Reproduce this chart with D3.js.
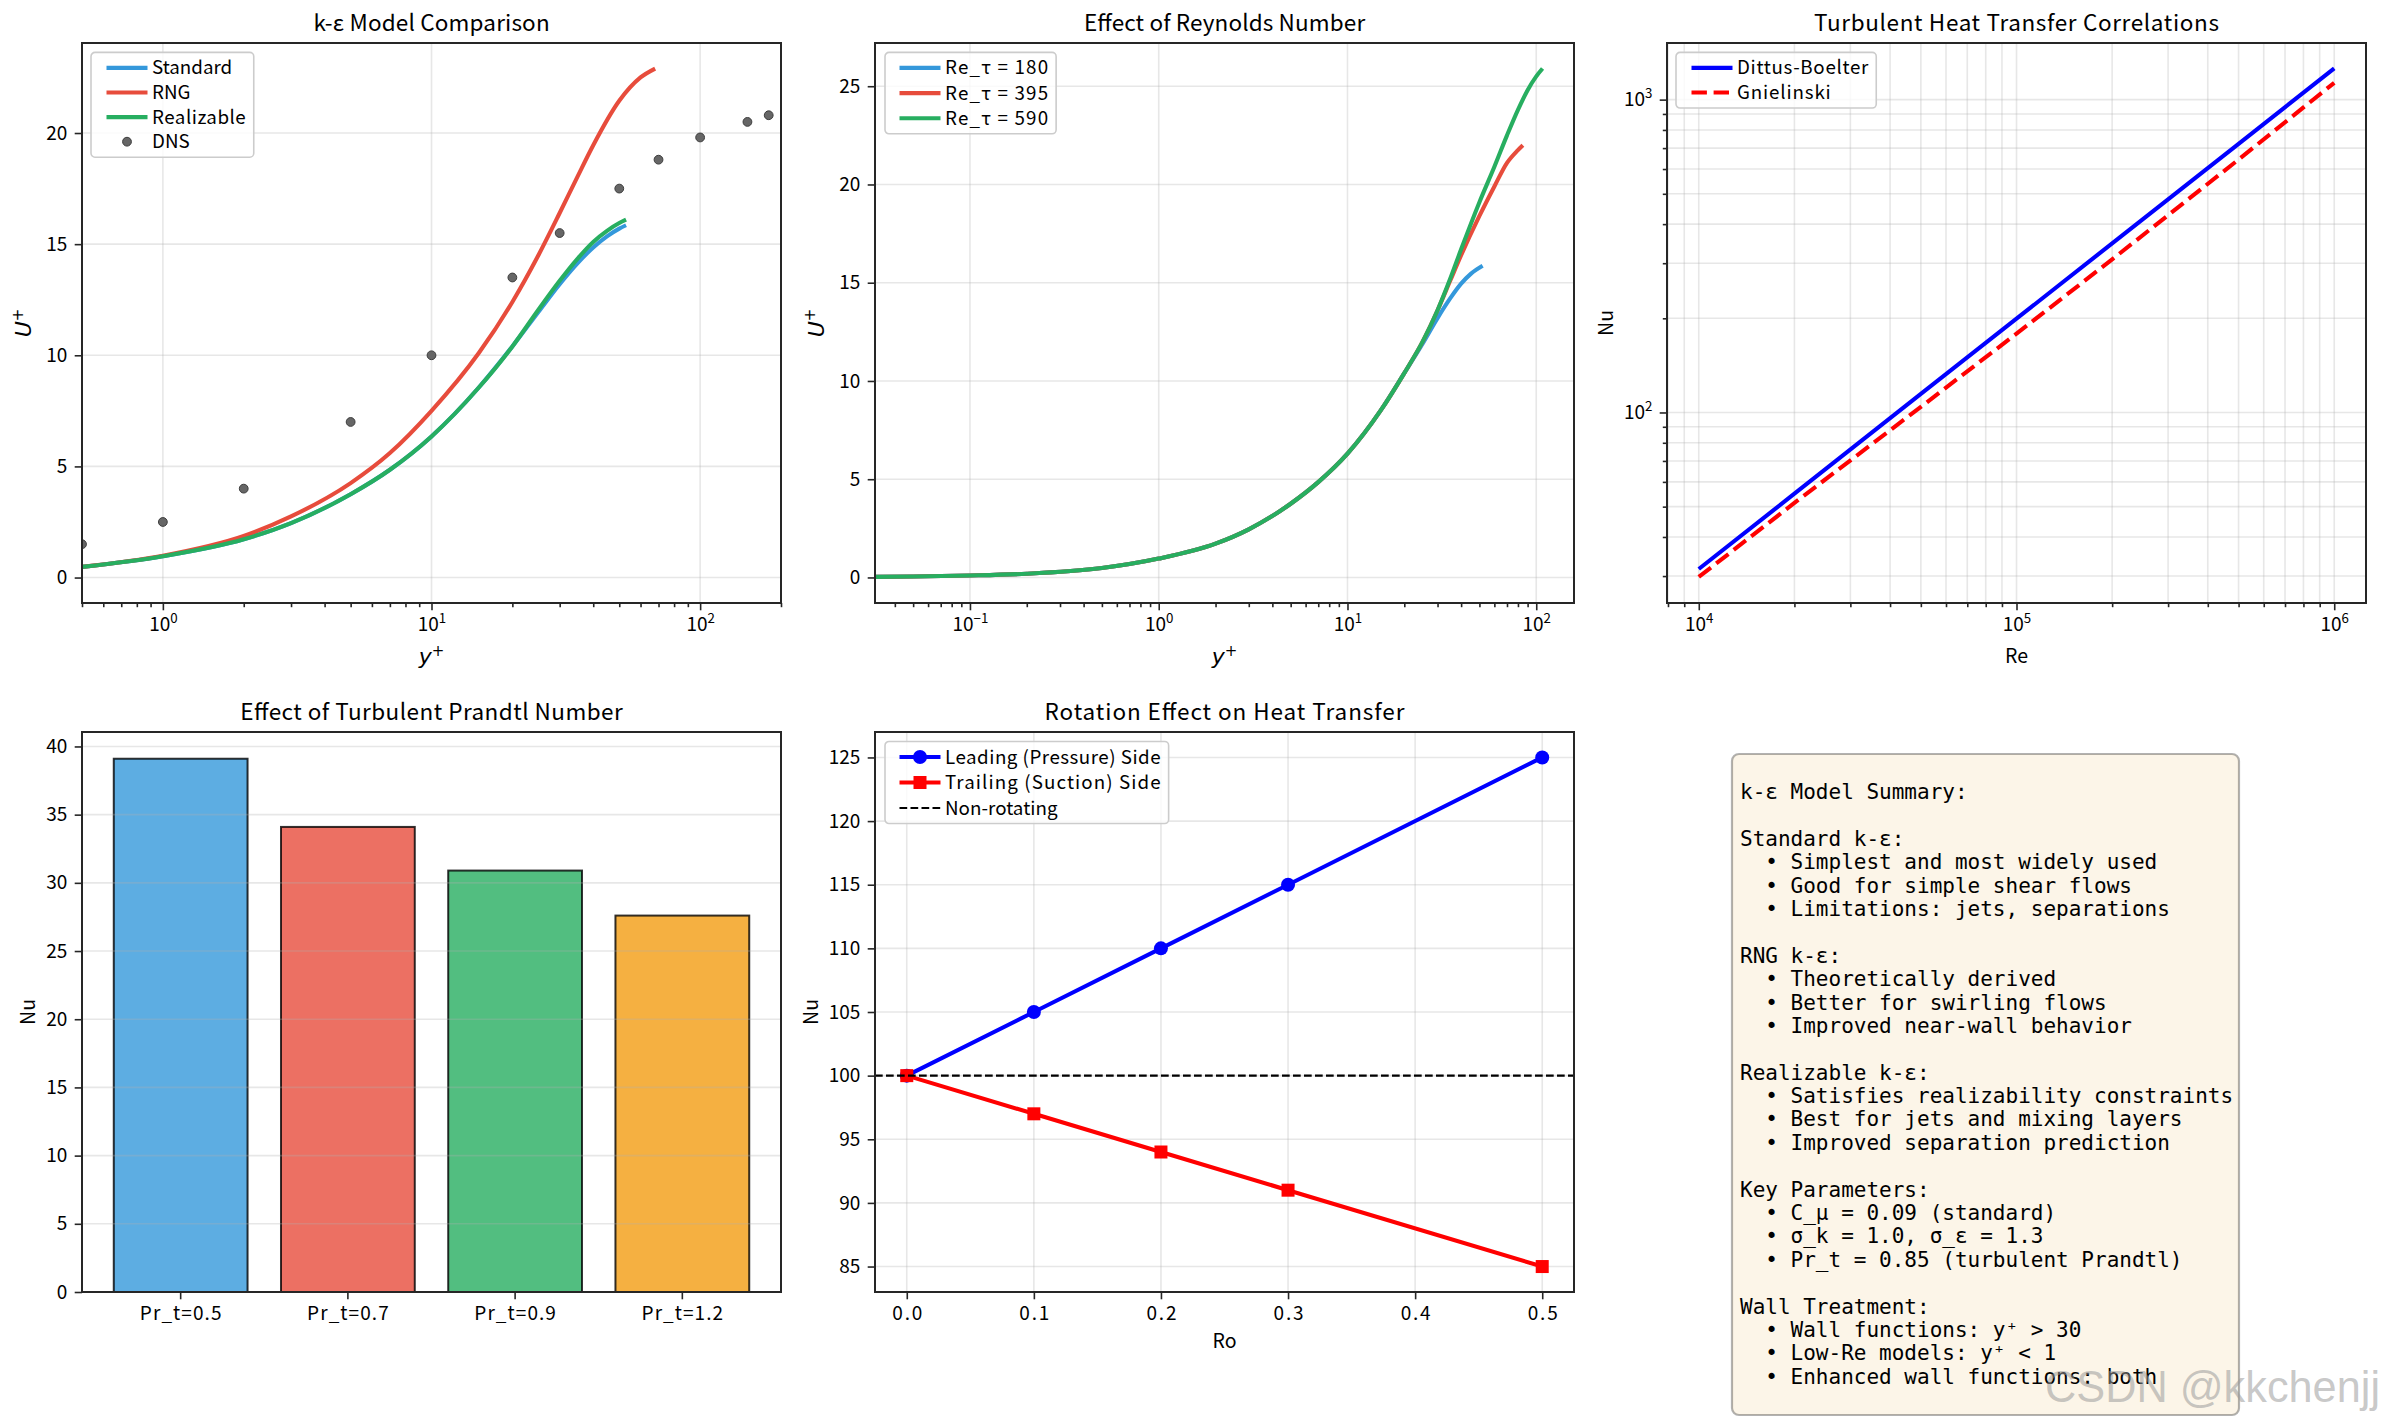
<!DOCTYPE html>
<html>
<head>
<meta charset="utf-8">
<script src="https://cdn.jsdelivr.net/npm/d3@7/dist/d3.min.js"></script>
<style>
  body { margin: 0; background: #fff; }
</style>
</head>
<body>
<script>

// ---------- data ----------

// panel 1: k-eps model comparison
const yPlusStd = [0.5, 1, 2, 3, 5, 7, 10, 15, 20, 25, 30, 35, 40, 45, 50, 53];
const uStandard = [0.48, 0.96, 1.72, 2.45, 3.75, 4.85, 6.35, 8.55, 10.4, 11.95, 13.2, 14.15, 14.85, 15.35, 15.7, 15.85];
const uRealizable = [0.48, 0.96, 1.72, 2.45, 3.75, 4.85, 6.35, 8.55, 10.4, 12.05, 13.35, 14.35, 15.1, 15.6, 15.95, 16.1];
const yPlusRng = [0.5, 1, 2, 3, 5, 7, 10, 15, 20, 25, 30, 35, 40, 50, 60, 68];
const uRng = [0.48, 0.98, 1.87, 2.75, 4.25, 5.6, 7.5, 10.1, 12.4, 14.5, 16.4, 18.05, 19.45, 21.45, 22.5, 22.9];
const dnsYPlus = [0.5, 1, 2, 5, 10, 20, 30, 50, 70, 100, 150, 180];
const dnsU = [1.5, 2.5, 4, 7, 10, 13.5, 15.5, 17.5, 18.8, 19.8, 20.5, 20.8];
const modelNames = ['Standard', 'RNG', 'Realizable'];

// panel 2: Reynolds number effect
const yPlus180 = [0.03, 0.05, 0.1, 0.2, 0.5, 1, 2, 3, 5, 7, 10, 15, 20, 25, 30, 35, 40, 45, 52];
const u180 = [0.03, 0.05, 0.1, 0.19, 0.48, 0.96, 1.72, 2.45, 3.75, 4.85, 6.3, 8.5, 10.4, 11.9, 13.2, 14.2, 14.95, 15.45, 15.86];
const yPlus395 = [0.03, 0.05, 0.1, 0.2, 0.5, 1, 2, 3, 5, 7, 10, 15, 20, 25, 30, 35, 40, 50, 60, 70, 80, 85];
const u395 = [0.03, 0.05, 0.1, 0.19, 0.48, 0.96, 1.72, 2.45, 3.75, 4.85, 6.3, 8.5, 10.4, 12.0, 13.6, 15.1, 16.4, 18.4, 19.9, 21.1, 21.75, 22.0];
const yPlus590 = [0.03, 0.05, 0.1, 0.2, 0.5, 1, 2, 3, 5, 7, 10, 15, 20, 25, 30, 35, 40, 50, 60, 70, 80, 90, 100, 108];
const u590 = [0.03, 0.05, 0.1, 0.19, 0.48, 0.96, 1.72, 2.45, 3.75, 4.85, 6.3, 8.5, 10.4, 12.0, 13.6, 15.2, 16.7, 19.1, 20.9, 22.5, 23.8, 24.8, 25.5, 25.9];
const reTauNames = ['Re_τ = 180', 'Re_τ = 395', 'Re_τ = 590'];

// panel 3: heat transfer correlations
const reValues = [1e4, 2e4, 5e4, 1e5, 2e5, 5e5, 1e6];
const nuDittus = [31.6, 55.0, 114.6, 199.4, 347.2, 722.6, 1258];
const nuGnielinski = [29.8, 51.4, 104.2, 178.6, 308.5, 643.5, 1132];

// panel 4: turbulent Prandtl number
const prtLabels = ['Pr_t=0.5', 'Pr_t=0.7', 'Pr_t=0.9', 'Pr_t=1.2'];
const nuPrt = [39.1, 34.1, 30.9, 27.6];

// panel 5: rotation
const roValues = [0, 0.1, 0.2, 0.3, 0.5];
const nuLeading = [100, 105, 110, 115, 125];
const nuTrailing = [100, 97, 94, 91, 85];
const nuNonRotating = 100;

// axis limits and ticks
const xlim1 = [0.5, 200], ylim1 = [-1.145, 24.05], uTicks1 = [0, 5, 10, 15, 20];
const xlim2 = [0.0314, 158.5], ylim2 = [-1.3, 27.2], uTicks2 = [0, 5, 10, 15, 20, 25];
const xlim3 = [Math.pow(10, 3.9), Math.pow(10, 6.1)], ylim3 = [Math.pow(10, 1.391), Math.pow(10, 3.181)];
const ylim4 = [0, 41.06], nuTicks4 = [0, 5, 10, 15, 20, 25, 30, 35, 40];
const xlim5 = [-0.025, 0.525], ylim5 = [83, 127];
const roTicks = [0, 0.1, 0.2, 0.3, 0.4, 0.5], nuTicks5 = [85, 90, 95, 100, 105, 110, 115, 120, 125];

// summary box text
const summaryLines = [
  'k-ε Model Summary:',
  '',
  'Standard k-ε:',
  '  • Simplest and most widely used',
  '  • Good for simple shear flows',
  '  • Limitations: jets, separations',
  '',
  'RNG k-ε:',
  '  • Theoretically derived',
  '  • Better for swirling flows',
  '  • Improved near-wall behavior',
  '',
  'Realizable k-ε:',
  '  • Satisfies realizability constraints',
  '  • Best for jets and mixing layers',
  '  • Improved separation prediction',
  '',
  'Key Parameters:',
  '  • C_μ = 0.09 (standard)',
  '  • σ_k = 1.0, σ_ε = 1.3',
  '  • Pr_t = 0.85 (turbulent Prandtl)',
  '',
  'Wall Treatment:',
  '  • Wall functions: y⁺ > 30',
  '  • Low-Re models: y⁺ < 1',
  '  • Enhanced wall functions: both'
];

// ---------- styles ----------
const FONT = "'Noto Sans CJK SC', 'Noto Sans', sans-serif";
const MATH = "'DejaVu Sans', sans-serif";
const MONO = "'DejaVu Sans Mono', monospace";
const INK = '#262626';
const BLUE = '#3498db', RED = '#e74c3c', GREEN = '#27ae60', ORANGE = '#f39c12';
const TITLE_PX = 22.5, TICK_PX = 19, LEG_PX = 18.75;
const LW = 4.1;

const W = 699, H = 560;
const colX = [82, 875, 1667];
const rowY = [43, 732];

const svg = d3.select('body')
  .append('svg')
  .attr('width', 2382)
  .attr('height', 1424)
  .style('font-family', FONT);

// width in half-width units, like the CJK font in the reference
const units = s => Array.from(s).reduce((n, ch) => n + (ch.charCodeAt(0) < 128 ? 1 : 2), 0);

// widen a text to the monospaced width of the reference font (never squeeze)
const fitText = (sel, pxPerUnit) => {
  sel.each(function() {
    const target = units(this.textContent) * pxPerUnit;
    if (this.getComputedTextLength() < target) {
      d3.select(this).attr('textLength', target).attr('lengthAdjust', 'spacing');
    }
  });
};

const panel = (cx, cy, title, id) => {
  const g = svg.append('g').attr('transform', `translate(${cx}, ${cy})`);
  g.append('clipPath').attr('id', id)
    .append('rect').attr('width', W).attr('height', H);
  g.append('text')
    .attr('x', W / 2).attr('y', -12.5)
    .attr('text-anchor', 'middle')
    .attr('font-size', TITLE_PX)
    .attr('fill', '#000')
    .text(title)
    .call(fitText, TITLE_PX / 2);
  const grid = g.append('g');
  const plot = g.append('g').attr('clip-path', `url(#${id})`);
  return { g, grid, plot };
};

// major + minor decade ticks inside a domain
const logTicks = (dom) => {
  const major = [], minor = [];
  const lo = Math.floor(Math.log10(dom[0])), hi = Math.ceil(Math.log10(dom[1]));
  for (let e = lo; e <= hi; e++) {
    for (let k = 1; k < 10; k++) {
      const v = k * Math.pow(10, e);
      if (v < dom[0] * 0.9999 || v > dom[1] * 1.0001) continue;
      (k === 1 ? major : minor).push(v);
    }
  }
  return { major, minor };
};

const gridX = (p, x, vals) => {
  p.grid.selectAll(null).data(vals).enter().append('line')
    .attr('x1', d => x(d)).attr('x2', d => x(d))
    .attr('y1', 0).attr('y2', H)
    .attr('stroke', '#b0b0b0').attr('stroke-opacity', 0.3).attr('stroke-width', 1.6);
};
const gridY = (p, y, vals, layer) => {
  (layer || p.grid).selectAll(null).data(vals).enter().append('line')
    .attr('x1', 0).attr('x2', W)
    .attr('y1', d => y(d)).attr('y2', d => y(d))
    .attr('stroke', '#b0b0b0').attr('stroke-opacity', 0.3).attr('stroke-width', 1.6);
};

const styleAxis = (ag) => {
  ag.attr('font-family', FONT).attr('font-size', TICK_PX);
  ag.select('.domain').remove();
  ag.selectAll('.tick line').attr('stroke', INK).attr('stroke-width', 1.6);
  ag.selectAll('.tick text').attr('fill', '#000');
};

// 10^n labels
const powLabels = (ag) => {
  ag.selectAll('.tick text').each(function(d) {
    const t = d3.select(this).text(null);
    t.append('tspan').text('10');
    t.append('tspan')
      .attr('dy', '-0.6em')
      .attr('font-size', '0.7em')
      .text(String(Math.round(Math.log10(d))).replace('-', '−'));
  });
};

const bottomAxis = (p, scale, vals, fmt, size) => {
  const ag = p.g.append('g').attr('transform', `translate(0, ${H})`)
    .call(d3.axisBottom(scale).tickValues(vals).tickSize(size).tickPadding(7.3)
      .tickFormat(fmt || ''));
  styleAxis(ag);
  return ag;
};
const leftAxis = (p, scale, vals, fmt, size) => {
  const ag = p.g.append('g')
    .call(d3.axisLeft(scale).tickValues(vals).tickSize(size).tickPadding(7.3)
      .tickFormat(fmt || ''));
  styleAxis(ag);
  return ag;
};

const frame = (p) => {
  p.g.append('rect')
    .attr('width', W).attr('height', H)
    .attr('fill', 'none').attr('stroke', INK).attr('stroke-width', 2);
};

const mathLabel = (p, letter, x, y, rotate) => {
  const t = p.g.append('text')
    .attr('transform', rotate ? `translate(${x}, ${y}) rotate(-90)` : `translate(${x}, ${y})`)
    .attr('text-anchor', 'middle')
    .attr('font-family', MATH)
    .attr('font-size', 22)
    .attr('dy', rotate ? '0.35em' : 0);
  t.append('tspan').attr('font-style', 'italic').text(letter);
  t.append('tspan').attr('dy', '-0.55em').attr('font-size', 15).text('+');
};

const plainLabel = (p, txt, x, y, rotate) => {
  p.g.append('text')
    .attr('transform', rotate ? `translate(${x}, ${y}) rotate(-90)` : `translate(${x}, ${y})`)
    .attr('text-anchor', 'middle')
    .attr('dy', rotate ? '0.35em' : 0)
    .attr('font-size', 19.5)
    .text(txt);
};

const addLine = (p, xs, ys, x, y, color, width, dash, curve) => {
  const line = d3.line()
    .curve(curve || d3.curveMonotoneX)
    .x(d => x(d[0]))
    .y(d => y(d[1]));
  return p.plot.append('path')
    .datum(xs.map((v, i) => [v, ys[i]]))
    .attr('d', line)
    .attr('fill', 'none')
    .attr('stroke', color)
    .attr('stroke-width', width)
    .attr('stroke-linejoin', 'round')
    .attr('stroke-dasharray', dash || null);
};

// legend: items {label, color, width, dash, marker}
const legend = (p, x0, y0, step, items) => {
  const maxU = d3.max(items, d => units(d.label));
  const w = 70 - x0 + maxU * LEG_PX / 2 + 8;
  const h = (items.length - 1) * step + 31;
  const lg = p.g.append('g').attr('transform', `translate(${x0}, ${y0})`);
  lg.append('rect')
    .attr('width', w).attr('height', h).attr('rx', 4)
    .attr('fill', '#fff').attr('fill-opacity', 0.8)
    .attr('stroke', '#cccccc').attr('stroke-width', 1.6);
  items.forEach((it, i) => {
    const cy = 15.5 + i * step;
    const hx0 = 15.5 - x0 + 9, hx1 = 56.5 - x0 + 9;
    if (it.width) {
      lg.append('line')
        .attr('x1', hx0).attr('x2', hx1).attr('y1', cy).attr('y2', cy)
        .attr('stroke', it.color).attr('stroke-width', it.width)
        .attr('stroke-dasharray', it.dash || null);
    }
    if (it.marker) it.marker(lg, (hx0 + hx1) / 2, cy);
    lg.append('text')
      .attr('x', 70 - x0).attr('y', cy).attr('dy', '0.35em')
      .attr('font-size', LEG_PX)
      .text(it.label)
      .call(fitText, LEG_PX / 2);
  });
};

const dot = (g, cx, cy) => g.append('circle')
  .attr('cx', cx).attr('cy', cy).attr('r', 4.4)
  .attr('fill', '#666').attr('stroke', '#3d3d3d').attr('stroke-width', 1);
const blueDot = (g, cx, cy) => g.append('circle')
  .attr('cx', cx).attr('cy', cy).attr('r', 7).attr('fill', '#0000ff');
const redSquare = (g, cx, cy) => g.append('rect')
  .attr('x', cx - 6.5).attr('y', cy - 6.5).attr('width', 13).attr('height', 13)
  .attr('fill', '#ff0000');

// ---------- panel 1 ----------
const p1 = panel(colX[0], rowY[0], 'k-ε Model Comparison', 'c1');
const x1 = d3.scaleLog().domain(xlim1).range([0, W]);
const y1 = d3.scaleLinear().domain(ylim1).range([H, 0]);
const t1 = logTicks(xlim1);
gridX(p1, x1, t1.major);
gridY(p1, y1, uTicks1);

addLine(p1, yPlusStd, uStandard, x1, y1, BLUE, LW);
addLine(p1, yPlusRng, uRng, x1, y1, RED, LW);
addLine(p1, yPlusStd, uRealizable, x1, y1, GREEN, LW);
dnsYPlus.forEach((v, i) => dot(p1.plot, x1(v), y1(dnsU[i])));

frame(p1);
powLabels(bottomAxis(p1, x1, t1.major, d => d, 7.3));
bottomAxis(p1, x1, t1.minor, null, 4.2);
leftAxis(p1, y1, uTicks1, d3.format('d'), 7.3);
mathLabel(p1, 'y', W / 2, H + 61, false);
mathLabel(p1, 'U', -58.7, H / 2, true);
legend(p1, 9, 9.4, 24.6, [
  { label: modelNames[0], color: BLUE, width: LW },
  { label: modelNames[1], color: RED, width: LW },
  { label: modelNames[2], color: GREEN, width: LW },
  { label: 'DNS', marker: dot }
]);

// ---------- panel 2 ----------
const p2 = panel(colX[1], rowY[0], 'Effect of Reynolds Number', 'c2');
const x2 = d3.scaleLog().domain(xlim2).range([0, W]);
const y2 = d3.scaleLinear().domain(ylim2).range([H, 0]);
const t2 = logTicks(xlim2);
gridX(p2, x2, t2.major);
gridY(p2, y2, uTicks2);

addLine(p2, yPlus180, u180, x2, y2, BLUE, LW);
addLine(p2, yPlus395, u395, x2, y2, RED, LW);
addLine(p2, yPlus590, u590, x2, y2, GREEN, LW);

frame(p2);
powLabels(bottomAxis(p2, x2, t2.major, d => d, 7.3));
bottomAxis(p2, x2, t2.minor, null, 4.2);
leftAxis(p2, y2, uTicks2, d3.format('d'), 7.3);
mathLabel(p2, 'y', W / 2, H + 61, false);
mathLabel(p2, 'U', -59, H / 2, true);
legend(p2, 10, 9.4, 25.2, [
  { label: reTauNames[0], color: BLUE, width: LW },
  { label: reTauNames[1], color: RED, width: LW },
  { label: reTauNames[2], color: GREEN, width: LW }
]);

// ---------- panel 3 ----------
const p3 = panel(colX[2], rowY[0], 'Turbulent Heat Transfer Correlations', 'c3');
const x3 = d3.scaleLog().domain(xlim3).range([0, W]);
const y3 = d3.scaleLog().domain(ylim3).range([H, 0]);
const t3x = logTicks(xlim3), t3y = logTicks(ylim3);
gridX(p3, x3, t3x.major.concat(t3x.minor));
gridY(p3, y3, t3y.major.concat(t3y.minor));

addLine(p3, reValues, nuDittus, x3, y3, '#0000ff', LW, null, d3.curveLinear);
addLine(p3, reValues, nuGnielinski, x3, y3, '#ff0000', LW, '15.4 6.7', d3.curveLinear);

frame(p3);
powLabels(bottomAxis(p3, x3, t3x.major, d => d, 7.3));
bottomAxis(p3, x3, t3x.minor, null, 4.2);
powLabels(leftAxis(p3, y3, t3y.major, d => d, 7.3));
leftAxis(p3, y3, t3y.minor, null, 4.2);
plainLabel(p3, 'Re', W / 2, H + 60, false);
plainLabel(p3, 'Nu', -61, H / 2, true);
legend(p3, 9, 9.4, 24.6, [
  { label: 'Dittus-Boelter', color: '#0000ff', width: LW },
  { label: 'Gnielinski', color: '#ff0000', width: LW, dash: '15.4 6.7' }
]);

// ---------- panel 4 ----------
const p4 = panel(colX[0], rowY[1], 'Effect of Turbulent Prandtl Number', 'c4');
const x4 = d3.scaleBand().domain(prtLabels).range([0, W]).paddingInner(0.2).paddingOuter(0.19);
const y4 = d3.scaleLinear().domain(ylim4).range([H, 0]);
const barColors = [BLUE, RED, GREEN, ORANGE];

p4.plot.selectAll('rect.bar')
  .data(nuPrt)
  .enter().append('rect')
    .attr('class', 'bar')
    .attr('x', (d, i) => x4(prtLabels[i]))
    .attr('width', x4.bandwidth())
    .attr('y', d => y4(d))
    .attr('height', d => H - y4(d))
    .attr('fill', (d, i) => barColors[i])
    .attr('fill-opacity', 0.8)
    .attr('stroke', '#000')
    .attr('stroke-opacity', 0.8)
    .attr('stroke-width', 2);
// grid sits over the bars (matplotlib default zorder)
gridY(p4, y4, nuTicks4, p4.plot);

frame(p4);
bottomAxis(p4, x4, prtLabels, d => d, 7.3)
  .selectAll('.tick text').call(fitText, 10.2);
leftAxis(p4, y4, nuTicks4, d3.format('d'), 7.3);
plainLabel(p4, 'Nu', -54, H / 2, true);

// ---------- panel 5 ----------
const p5 = panel(colX[1], rowY[1], 'Rotation Effect on Heat Transfer', 'c5');
const x5 = d3.scaleLinear().domain(xlim5).range([0, W]);
const y5 = d3.scaleLinear().domain(ylim5).range([H, 0]);
gridX(p5, x5, roTicks);
gridY(p5, y5, nuTicks5);

addLine(p5, roValues, nuLeading, x5, y5, '#0000ff', LW, null, d3.curveLinear);
roValues.forEach((v, i) => blueDot(p5.plot, x5(v), y5(nuLeading[i])));
addLine(p5, roValues, nuTrailing, x5, y5, '#ff0000', LW, null, d3.curveLinear);
roValues.forEach((v, i) => redSquare(p5.plot, x5(v), y5(nuTrailing[i])));
p5.plot.append('line')
  .attr('x1', 0).attr('x2', W)
  .attr('y1', y5(nuNonRotating)).attr('y2', y5(nuNonRotating))
  .attr('stroke', '#000').attr('stroke-width', 2.1).attr('stroke-dasharray', '7.7 3.3');

frame(p5);
bottomAxis(p5, x5, roTicks, d3.format('.1f'), 7.3)
  .selectAll('.tick text').call(fitText, 10);
leftAxis(p5, y5, nuTicks5, d3.format('d'), 7.3);
plainLabel(p5, 'Ro', W / 2, H + 56, false);
plainLabel(p5, 'Nu', -64, H / 2, true);
legend(p5, 10, 9.5, 25.5, [
  { label: 'Leading (Pressure) Side', color: '#0000ff', width: LW, marker: blueDot },
  { label: 'Trailing (Suction) Side', color: '#ff0000', width: LW, marker: redSquare },
  { label: 'Non-rotating', color: '#000', width: 2.1, dash: '7.7 3.3' }
]);

// ---------- summary box ----------
const box = svg.append('g').attr('transform', 'translate(1732, 754)');
box.append('rect')
  .attr('width', 507).attr('height', 661).attr('rx', 7)
  .attr('fill', '#f5deb3').attr('fill-opacity', 0.3)
  .attr('stroke', '#000').attr('stroke-opacity', 0.3).attr('stroke-width', 2.2);
box.selectAll('text')
  .data(summaryLines)
  .enter().append('text')
    .attr('x', 8)
    .attr('y', (d, i) => 45 + i * 23.39)
    .attr('font-family', MONO)
    .attr('font-size', 21)
    .attr('fill', '#000')
    .attr('xml:space', 'preserve')
    .style('white-space', 'pre')
    .text(d => d);

// watermark
svg.append('text')
  .attr('x', 2045).attr('y', 1402)
  .attr('font-family', "'Liberation Sans', Arial, sans-serif")
  .attr('font-size', 44)
  .attr('fill', '#9a9a9a')
  .attr('fill-opacity', 0.55)
  .attr('textLength', 335)
  .attr('lengthAdjust', 'spacingAndGlyphs')
  .text('CSDN @kkchenjj');

</script>
</body>
</html>
